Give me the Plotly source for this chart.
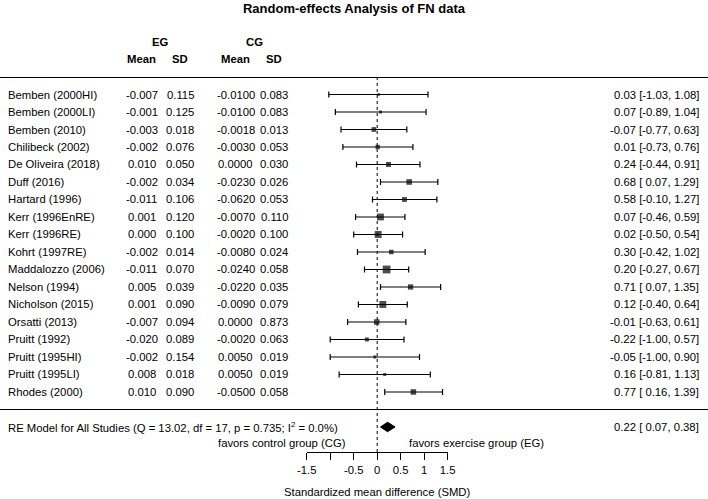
import plotly.graph_objects as go

# ---------------- data ----------------
studies = ["Bemben (2000HI)", "Bemben (2000LI)", "Bemben (2010)", "Chilibeck (2002)",
           "De Oliveira (2018)", "Duff (2016)", "Hartard (1996)", "Kerr (1996EnRE)",
           "Kerr (1996RE)", "Kohrt (1997RE)", "Maddalozzo (2006)", "Nelson (1994)",
           "Nicholson (2015)", "Orsatti (2013)", "Pruitt (1992)", "Pruitt (1995HI)",
           "Pruitt (1995LI)", "Rhodes (2000)"]
eg_mean = [-0.007, -0.001, -0.003, -0.002, 0.010, -0.002, -0.011, 0.001, 0.000,
           -0.002, -0.011, 0.005, 0.001, -0.007, -0.020, -0.002, 0.008, 0.010]
eg_sd = [0.115, 0.125, 0.018, 0.076, 0.050, 0.034, 0.106, 0.120, 0.100,
         0.014, 0.070, 0.039, 0.090, 0.094, 0.089, 0.154, 0.018, 0.090]
cg_mean = [-0.0100, -0.0100, -0.0018, -0.0030, 0.0000, -0.0230, -0.0620, -0.0070, -0.0020,
           -0.0080, -0.0240, -0.0220, -0.0090, 0.0000, -0.0020, 0.0050, 0.0050, -0.0500]
cg_sd = [0.083, 0.083, 0.013, 0.053, 0.030, 0.026, 0.053, 0.110, 0.100,
         0.024, 0.058, 0.035, 0.079, 0.873, 0.063, 0.019, 0.019, 0.058]
smd = [0.03, 0.07, -0.07, 0.01, 0.24, 0.68, 0.58, 0.07, 0.02,
       0.30, 0.20, 0.71, 0.12, -0.01, -0.22, -0.05, 0.16, 0.77]
ci_lo = [-1.03, -0.89, -0.77, -0.73, -0.44, 0.07, -0.10, -0.46, -0.50,
         -0.42, -0.27, 0.07, -0.40, -0.63, -1.00, -1.00, -0.81, 0.16]
ci_hi = [1.08, 1.04, 0.63, 0.76, 0.91, 1.29, 1.27, 0.59, 0.54,
         1.02, 0.67, 1.35, 0.64, 0.61, 0.57, 0.90, 1.13, 1.39]

re_est, re_lo, re_hi = 0.22, 0.07, 0.38
q_stat, q_df, q_p, i2 = 13.02, 17, 0.735, 0.0

tick_vals = [-1.5, -1, -0.5, 0, 0.5, 1, 1.5]
tick_text = ["-1.5", "", "-0.5", "0", "0.5", "1", "1.5"]

title_text = "Random-effects Analysis of FN data"
xlab = "Standardized mean difference (SMD)"
fav_left = "favors control group (CG)"
fav_right = "favors exercise group (EG)"

# ---------------- layout helpers ----------------
W, H = 708, 499
FONT = "Liberation Sans, Arial, sans-serif"
FS = 11.3
k = len(studies)
rows = [k - i for i in range(k)]          # 18 .. 1
y_sum = -1
y_bottom = -2.43
y_top = k + 1

def px(xp):
    return xp / W

def py(yp):
    return 1 - yp / H

# marker sizes from study weights (inverse standard error, metafor style)
w = [1.0 / ((h - l) / 3.92) for l, h in zip(ci_lo, ci_hi)]
wmin, wmax = min(w), max(w)
sizes = [(0.5 + (wi - wmin) / (wmax - wmin)) * 5.2 for wi in w]

fig = go.Figure()

# study estimates with CIs
fig.add_trace(go.Scatter(
    x=smd, y=rows, mode="markers",
    marker=dict(symbol="square", size=sizes, color="black", line=dict(width=0)),
    error_x=dict(type="data", symmetric=False,
                 array=[h - e for h, e in zip(ci_hi, smd)],
                 arrayminus=[e - l for e, l in zip(smd, ci_lo)],
                 color="black", thickness=1.2, width=3),
    hoverinfo="skip", showlegend=False, cliponaxis=False))

# summary diamond
dh = 0.27
fig.add_trace(go.Scatter(
    x=[re_lo, re_est, re_hi, re_est, re_lo],
    y=[y_sum, y_sum + dh, y_sum, y_sum - dh, y_sum],
    mode="lines", fill="toself", fillcolor="black",
    line=dict(color="black", width=1), hoverinfo="skip", showlegend=False))

shapes = [
    dict(type="line", xref="paper", yref="paper", x0=0, x1=1, y0=py(77.5), y1=py(77.5),
         line=dict(color="black", width=1.2)),
    dict(type="line", xref="paper", yref="y", x0=0, x1=1, y0=0, y1=0,
         line=dict(color="black", width=1.2)),
    dict(type="line", xref="x", yref="y", x0=0, x1=0, y0=y_bottom, y1=y_top,
         line=dict(color="black", width=1, dash="dot")),
]

ann = []
def txt(x, y, s, anchor="left", bold=False, size=FS, yref="y"):
    ann.append(dict(x=x, y=y, xref="paper", yref=yref, text=f"<b>{s}</b>" if bold else s,
                    showarrow=False, xanchor=anchor, yanchor="middle",
                    font=dict(family=FONT, size=size, color="black")))

col_eg_m, col_eg_sd, col_cg_m, col_cg_sd = px(141.5), px(180), px(235.5), px(274)

# headers
txt(px(160.5), py(42), "EG", "center", bold=True, yref="paper")
txt(px(254.5), py(42), "CG", "center", bold=True, yref="paper")
txt(col_eg_m, py(59.5), "Mean", "center", bold=True, yref="paper")
txt(col_eg_sd, py(59.5), "SD", "center", bold=True, yref="paper")
txt(col_cg_m, py(59.5), "Mean", "center", bold=True, yref="paper")
txt(col_cg_sd, py(59.5), "SD", "center", bold=True, yref="paper")

for i in range(k):
    y = rows[i]
    txt(px(6), y, studies[i], "left")
    txt(col_eg_m, y, f"{eg_mean[i]:.3f}", "center")
    txt(col_eg_sd, y, f"{eg_sd[i]:.3f}", "center")
    txt(col_cg_m, y, f"{cg_mean[i]:.4f}", "center")
    txt(col_cg_sd, y, f"{cg_sd[i]:.3f}", "center")
    txt(px(701), y, f"{smd[i]:.2f} [{ci_lo[i]:5.2f}, {ci_hi[i]:.2f}]", "right")

txt(px(6), y_sum,
    f"RE Model for All Studies (Q = {q_stat:.2f}, df = {q_df}, p = {q_p:.3f}; I<sup>2</sup> = {i2:.1f}%)",
    "left")
txt(px(701), y_sum, f"{re_est:.2f} [{re_lo:5.2f}, {re_hi:.2f}]", "right")

txt(px(347.5), py(443), fav_left, "right", yref="paper")
txt(px(406.5), py(443), fav_right, "left", yref="paper")

ann.append(dict(x=0, y=py(492), xref="x", yref="paper", text=xlab, showarrow=False,
                xanchor="center", yanchor="middle",
                font=dict(family=FONT, size=FS, color="black")))

x_dom = [306.7 / W, 447.7 / W]
y_dom = [py(452), py(77)]

fig.update_layout(
    width=W, height=H,
    margin=dict(l=0, r=0, t=0, b=0, autoexpand=False),
    paper_bgcolor="white", plot_bgcolor="white",
    title=dict(text=f"<b>{title_text}</b>", x=0.5, xanchor="center",
               y=py(8.5), yanchor="middle", automargin=False,
               font=dict(family=FONT, size=13, color="black")),
    xaxis=dict(domain=x_dom, range=[-1.5, 1.5], showgrid=False, zeroline=False,
               showline=True, linecolor="black", linewidth=1, automargin=False,
               ticks="outside", ticklen=7, tickwidth=1, tickcolor="black",
               tickvals=tick_vals, ticktext=tick_text,
               tickfont=dict(family=FONT, size=FS, color="black"), fixedrange=True),
    yaxis=dict(domain=y_dom, range=[y_bottom, y_top], visible=False, fixedrange=True,
               automargin=False),
    shapes=shapes, annotations=ann, showlegend=False,
)

fig.write_html("out.html", config={"displayModeBar": False},
               post_script="document.body.style.margin='0px';document.body.style.overflow='hidden';")
